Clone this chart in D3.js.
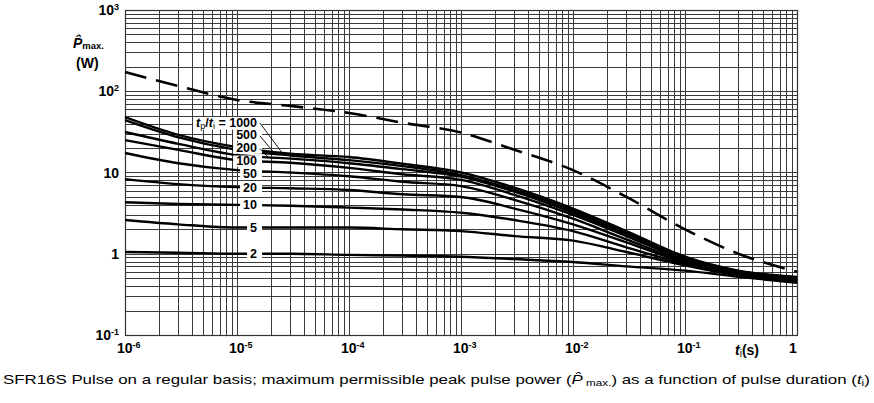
<!DOCTYPE html>
<html><head><meta charset="utf-8">
<script src="https://cdn.jsdelivr.net/npm/d3@7"></script>
<style>body{margin:0;background:#fff}svg{display:block}</style>
</head><body><svg id="c" width="874" height="403"></svg>
<script>
// ---- data ----
const pulseDurations = [1e-6,3e-6,1e-5,3e-5,1e-4,3e-4,1e-3,3e-3,1e-2,3e-2,1e-1,3e-1,1];
const ratioLabels = ["1000","500","200","100","50","20","10","5","2"];
const p1000 = [48,29,20.5,17,15.5,12.8,10,6.5,3.6,1.9,0.92,0.62,0.52];
const p500  = [44,27,19,16.2,14.2,12,9.3,6.1,3.4,1.8,0.9,0.61,0.51];
const p200  = [31.5,22.5,16.4,14.8,13,11,8.9,5.8,3.2,1.75,0.88,0.6,0.5];
const p100  = [25,19,14.2,13.2,11.4,9.5,8.1,5.3,3.0,1.65,0.85,0.59,0.49];
const p50   = [17.4,13,10.7,10,9.0,7.7,6.8,4.6,2.7,1.5,0.82,0.58,0.48];
const p20   = [8.3,7.2,6.6,6.4,6.1,5.4,5.0,3.6,2.3,1.38,0.78,0.56,0.47];
const p10   = [4.3,4.1,4.0,3.9,3.7,3.5,3.2,2.6,1.9,1.2,0.75,0.55,0.46];
const p5    = [2.6,2.3,2.1,2.1,2.1,2.0,1.9,1.65,1.45,1.05,0.72,0.54,0.45];
const p2    = [1.05,1.03,1.0,1.0,0.97,0.95,0.92,0.86,0.79,0.7,0.62,0.52,0.44];
const singlePulse = [172,116,78,66,54,41,31,19,10.7,5.0,2.0,1.0,0.6];
const ratioSeries = [p1000,p500,p200,p100,p50,p20,p10,p5,p2];
const xTickLabels = [["10","-6"],["10","-5"],["10","-4"],["10","-3"],["10","-2"],["10","-1"],["1",""]];
const xTickValues = [1e-6,1e-5,1e-4,1e-3,1e-2,1e-1,1];
const yTickLabels = [["10","-1"],["1",""],["10",""],["10","2"],["10","3"]];
const yTickValues = [0.1,1,10,100,1000];
const captionText = ["SFR16S Pulse on a regular basis; maximum permissible peak pulse power (", "P\u0302", " max.", ") as a function of pulse duration (", "t", "i", ")"];

// ---- layout ----
const svg = d3.select("#c");
const L=125,R=797,T=10,B=335;
const x = d3.scaleLog().domain([1e-6,1]).range([L,R]);
const y = d3.scaleLog().domain([0.1,1000]).range([B,T]);
const FONT = "'Liberation Sans', Arial, Helvetica, sans-serif";

// grid
const gx=[], gy=[];
for(let d=-6; d<0; d++) for(let k=1;k<10;k++) gx.push(k*Math.pow(10,d));
gx.push(1);
for(let d=-1; d<3; d++) for(let k=1;k<10;k++) gy.push(k*Math.pow(10,d));
gy.push(1000);
const grid = svg.append("g").attr("stroke","#3a3a3a").attr("stroke-width",1).attr("shape-rendering","crispEdges");
grid.selectAll("line.v").data(gx).join("line").attr("class","v")
  .attr("x1",d=>Math.round(x(d))+0.5).attr("x2",d=>Math.round(x(d))+0.5).attr("y1",T).attr("y2",B);
grid.selectAll("line.h").data(gy).join("line").attr("class","h")
  .attr("y1",d=>Math.round(y(d))+0.5).attr("y2",d=>Math.round(y(d))+0.5).attr("x1",L).attr("x2",R);
svg.append("rect").attr("x",L+0.5).attr("y",T+0.5).attr("width",R-L).attr("height",B-T)
  .attr("fill","none").attr("stroke","#333").attr("stroke-width",1.2);

// curves
const line = d3.line().x(d=>x(d[0])).y(d=>y(d[1])).curve(d3.curveMonotoneX);
const curves = svg.append("g").attr("fill","none").attr("stroke","#000");
ratioSeries.forEach(s=>{
  curves.append("path").attr("d", line(pulseDurations.map((t,i)=>[t,s[i]]))).attr("stroke-width",2.4);
});
svg.append("path").attr("d", line(pulseDurations.map((t,i)=>[t,singlePulse[i]])))
  .attr("fill","none").attr("stroke","#000").attr("stroke-width",2.6).attr("stroke-dasharray","22,10");

// interpolation (log-log) for label placement
function valueAt(s,t){
  const lt=Math.log10(t);
  for(let i=0;i<pulseDurations.length-1;i++){
    const a=Math.log10(pulseDurations[i]), b=Math.log10(pulseDurations[i+1]);
    if(lt>=a && lt<=b){const f=(lt-a)/(b-a); return Math.pow(10, Math.log10(s[i])+f*(Math.log10(s[i+1])-Math.log10(s[i])));}
  }
  return s[s.length-1];
}

// curve labels
const labelRight = 257;
const tLabel = x.invert(245);
const step = 12.8;
const lg = svg.append("g").attr("font-family",FONT).attr("font-weight","bold").attr("font-size","12.5px");
const yLabel = ratioLabels.map((l,i)=>y(valueAt(ratioSeries[i],tLabel)));
for(let i=2;i>=0;i--) yLabel[i] = yLabel[i+1]-step;
for(let i=4;i<yLabel.length;i++) if(yLabel[i]-yLabel[i-1]<step) yLabel[i]=yLabel[i-1]+step;
ratioLabels.forEach((l,i)=>{
  const g = lg.append("g");
  const txt = g.append("text").attr("x",labelRight).attr("y",yLabel[i]+4.5).attr("text-anchor","end");
  if(i===0){
    txt.append("tspan").attr("font-style","italic").text("t");
    txt.append("tspan").attr("font-size","9px").attr("font-weight","normal").attr("dy",2.5).text("p");
    txt.append("tspan").attr("dy",-2.5).text("/");
    txt.append("tspan").attr("font-style","italic").text("t");
    txt.append("tspan").attr("font-size","9px").attr("font-weight","normal").attr("dy",2.5).text("i");
    txt.append("tspan").attr("dy",-2.5).text(" = "+l);
  } else txt.text(l);
  const bb = txt.node().getBBox();
  g.insert("rect","text").attr("x",bb.x-3).attr("y",bb.y+1.5).attr("width",bb.width+8).attr("height",bb.height-3).attr("fill","#fff");
});
// leader lines
const leaderEnds = [282,275,268];
leaderEnds.forEach((px,i)=>{
  const t = x.invert(px);
  svg.append("line").attr("x1",labelRight+3).attr("y1",yLabel[i]+1).attr("x2",px).attr("y2",y(valueAt(ratioSeries[i],t)))
    .attr("stroke","#000").attr("stroke-width",0.9);
});

// axis tick labels
const ax = svg.append("g").attr("font-family",FONT).attr("font-weight","bold").attr("font-size","14px").attr("fill","#000");
xTickValues.forEach((v,i)=>{
  const t = ax.append("text").attr("x",x(v)-8).attr("y",353);
  t.append("tspan").text(xTickLabels[i][0]);
  if(xTickLabels[i][1]) t.append("tspan").attr("font-size","9px").attr("dy",-5).text(xTickLabels[i][1]);
});
yTickValues.forEach((v,i)=>{
  const t = ax.append("text").attr("x",119).attr("y",y(v)+5).attr("text-anchor","end");
  t.append("tspan").text(yTickLabels[i][0]);
  if(yTickLabels[i][1]) t.append("tspan").attr("font-size","9px").attr("dy",-5).text(yTickLabels[i][1]);
});
// x axis title
const xt = ax.append("text").attr("x",735).attr("y",355);
xt.append("tspan").attr("font-style","italic").text("t");
xt.append("tspan").attr("font-size","10px").attr("font-weight","normal").attr("dy",2).text("i");
xt.append("tspan").attr("dy",-2).text("(s)");
// y axis title
const yt = ax.append("text").attr("x",73).attr("y",48);
yt.append("tspan").attr("font-style","italic").text("P\u0302");
yt.append("tspan").attr("font-size","9.5px").attr("dy",1).text("max.");
ax.append("text").attr("x",76).attr("y",68).text("(W)");

// caption
const cap = svg.append("text").attr("x",0).attr("y",0).attr("font-family",FONT).attr("font-size","13px").attr("fill","#000");
cap.append("tspan").text(captionText[0]);
cap.append("tspan").attr("font-style","italic").text(captionText[1]);
cap.append("tspan").attr("font-size","9px").attr("dy",2).text(captionText[2]);
cap.append("tspan").attr("dy",-2).text(captionText[3]);
cap.append("tspan").attr("font-style","italic").text(captionText[4]);
cap.append("tspan").attr("font-size","9px").attr("dy",2).text(captionText[5]);
cap.append("tspan").attr("dy",-2).text(captionText[6]);
const cw = cap.node().getComputedTextLength();
cap.attr("transform",`translate(3,384) scale(${868/cw},1.05)`);
</script></body></html>
